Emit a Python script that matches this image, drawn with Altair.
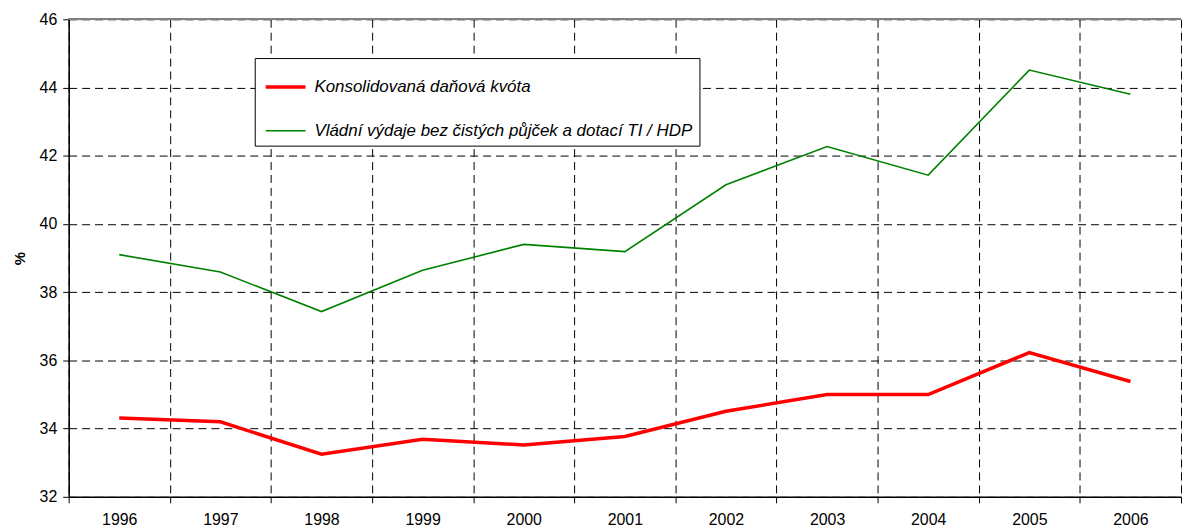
import altair as alt
import pandas as pd

years = ["1996", "1997", "1998", "1999", "2000", "2001", "2002", "2003", "2004", "2005", "2006"]
tax_quota = [34.31, 34.20, 33.25, 33.69, 33.52, 33.77, 34.51, 35.00, 35.00, 36.23, 35.38]
expenditure = [39.10, 38.59, 37.43, 38.64, 39.40, 39.19, 41.15, 42.27, 41.43, 44.51, 43.80]
series_names = ["Konsolidovaná daňová kvóta", "Vládní výdaje bez čistých půjček a dotací TI / HDP"]
y_ticks = [32, 34, 36, 38, 40, 42, 44, 46]

rows = []
for y, a, b in zip(years, tax_quota, expenditure):
    rows.append({"year": y, "series": series_names[0], "value": a})
    rows.append({"year": y, "series": series_names[1], "value": b})
df = pd.DataFrame(rows)

FONT = "Liberation Sans"

legend_cfg = dict(
    title=None, orient="none", legendX=187, legendY=39,
    strokeColor="#000000", fillColor="#FFFFFF", padding=7,
    symbolType="stroke", symbolSize=1600, symbolOffset=2,
    labelOffset=7, rowPadding=15, labelFont=FONT, labelFontSize=17,
    labelFontStyle="italic", labelColor="#000000", labelLimit=700,
)

lines = alt.Chart(df).mark_line(strokeJoin="miter").encode(
    x=alt.X(
        "year:O",
        bandPosition=0.5,
        scale=alt.Scale(type="band", paddingInner=0, paddingOuter=0),
        axis=alt.Axis(
            title=None, labelAngle=0, tickBand="extent", grid=True,
            gridDash=[8, 5], gridColor="#000000", gridOpacity=1, gridWidth=1,
            domainColor="#000000", domainWidth=1.5, tickColor="#000000", tickSize=6,
            labelPadding=9, labelFontSize=16, labelFont=FONT, labelColor="#000000",
        ),
    ),
    y=alt.Y(
        "value:Q",
        scale=alt.Scale(domain=[32, 46], nice=False, zero=False),
        axis=alt.Axis(
            values=y_ticks, title="%", titleFont=FONT, titleFontSize=15,
            titleFontWeight="bold", titleColor="#000000", titlePadding=12,
            grid=True, gridDash=[8, 5], gridColor="#000000", gridOpacity=1,
            domainColor="#000000", domainWidth=1.5, tickColor="#000000", tickSize=6,
            labelPadding=6, labelFontSize=16, labelFont=FONT, labelColor="#000000",
        ),
    ),
    color=alt.Color(
        "series:N",
        scale=alt.Scale(domain=series_names, range=["#FF0000", "#008000"]),
        legend=alt.Legend(**legend_cfg),
    ),
    strokeWidth=alt.StrokeWidth(
        "series:N",
        scale=alt.Scale(domain=series_names, range=[3.5, 1.6]),
        legend=alt.Legend(**legend_cfg),
    ),
)

top_rule = alt.Chart(df).mark_rule(color="#808080", strokeWidth=1.5).encode(y=alt.datum(46))

chart = alt.layer(lines, top_rule).properties(
    width=1118, height=480,
    padding={"left": 4, "top": 2, "right": 0, "bottom": 0},
).configure_view(stroke=None).configure(background="#FFFFFF")

chart.save("out.html", embed_options={"renderer": "svg", "actions": False})
